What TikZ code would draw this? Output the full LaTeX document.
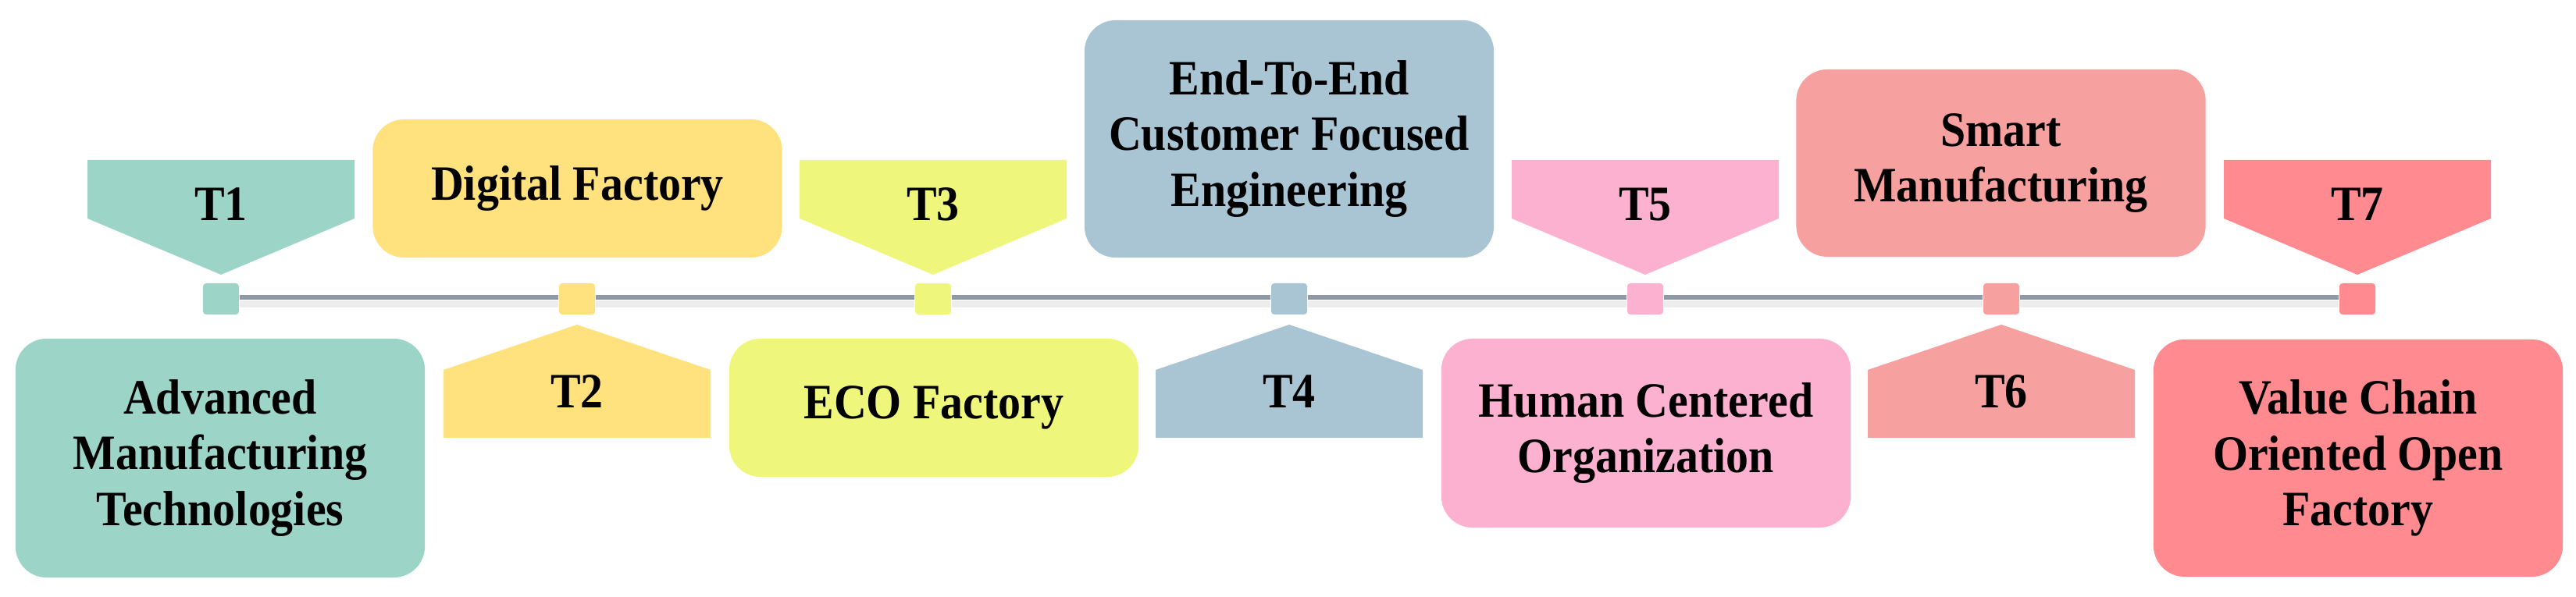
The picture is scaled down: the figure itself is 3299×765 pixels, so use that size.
\documentclass[tikz,border=0pt]{standalone}
\usepackage{fontspec}
\setmainfont{Liberation Serif}[FakeStretch=0.915]
\definecolor{cT1}{HTML}{9DD4C8}
\definecolor{cT2}{HTML}{FFE17E}
\definecolor{cT3}{HTML}{EEF77C}
\definecolor{cT4}{HTML}{A9C4D2}
\definecolor{cT5}{HTML}{FDB1D0}
\definecolor{cT6}{HTML}{F6A09F}
\definecolor{cT7}{HTML}{FF8A8F}
\definecolor{linegray}{HTML}{8E9BA7}
\definecolor{shadowgray}{HTML}{EDEDED}
\begin{document}
\begin{tikzpicture}[x=0.01cm,y=-0.01cm,
  lbl/.style={font=\bfseries\fontsize{18}{20.4}\selectfont, align=center, inner sep=0pt},
  card/.style={lbl, rounded corners=0.4cm, minimum width=5.24cm},
  tick/.style={minimum width=0.46cm, minimum height=0.40cm, inner sep=0pt, rounded corners=0.04cm},
  tline/.style={line width=0.06cm, draw=linegray},
  tshadow/.style={line width=0.09cm, draw=shadowgray}]
\useasboundingbox (0,0) rectangle (3299,765);
% top pentagons
\foreach \i/\x/\c in {1/283/cT1,3/1195/cT3,5/2107/cT5,7/3019/cT7} {
  \fill[\c] (\x-171,205) -- (\x+171,205) -- (\x+171,280) -- (\x,352) -- (\x-171,280) -- cycle;
  \node[lbl] (p\i) at (\x,262) {T\i};
}
% bottom pentagons
\foreach \i/\x/\c in {2/739/cT2,4/1651/cT4,6/2563/cT6} {
  \fill[\c] (\x-171,561) -- (\x+171,561) -- (\x+171,474) -- (\x,416) -- (\x-171,474) -- cycle;
  \node[lbl] (p\i) at (\x,502) {T\i};
}
% squares
\node[tick, fill=cT1] (s1) at (283,383) {};
\node[tick, fill=cT2] (s2) at (739,383) {};
\node[tick, fill=cT3] (s3) at (1195,383) {};
\node[tick, fill=cT4] (s4) at (1651,383) {};
\node[tick, fill=cT5] (s5) at (2107,383) {};
\node[tick, fill=cT6] (s6) at (2563,383) {};
\node[tick, fill=cT7] (s7) at (3019,383) {};
% timeline
\foreach \a/\b in {s1/s2,s2/s3,s3/s4,s4/s5,s5/s6,s6/s7} {
  \draw[tshadow] ([yshift=-0.07cm]\a.east) -- ([yshift=-0.07cm]\b.west);
  \draw[tline] ([yshift=0.02cm]\a.east) -- ([yshift=0.02cm]\b.west);
}
% cards
\node[card, fill=cT1, minimum height=3.06cm] (b1) at (282,587) {Advanced\\Manufacturing\\Technologies};
\node[card, fill=cT2, minimum height=1.77cm] (b2) at (739.5,241.5) {Digital Factory};
\node[card, fill=cT3, minimum height=1.77cm] (b3) at (1196,522.5) {ECO Factory};
\node[card, fill=cT4, minimum height=3.04cm] (b4) at (1651,178) {End-To-End\\Customer Focused\\Engineering};
\node[card, fill=cT5, minimum height=2.42cm] (b5) at (2108,555) {Human Centered\\Organization};
\node[card, fill=cT6, minimum height=2.40cm] (b6) at (2562.5,209) {Smart\\Manufacturing};
\node[card, fill=cT7, minimum height=3.04cm] (b7) at (3020,587) {Value Chain\\Oriented Open\\Factory};
\end{tikzpicture}
\end{document}
